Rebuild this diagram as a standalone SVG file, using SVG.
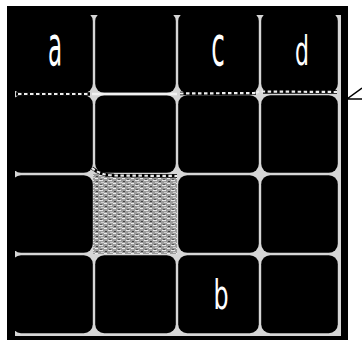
<svg xmlns="http://www.w3.org/2000/svg" width="362" height="343" viewBox="0 0 362 343">
<style>
.cell{fill:#000}
.lbl{fill:#fff;font-family:"DejaVu Sans",sans-serif;text-anchor:middle}
.under{fill:none;stroke:#000;stroke-width:3.5}
.dash{fill:none;stroke:#eeeeee;stroke-width:2.2;stroke-dasharray:3.5 2.5}
.solid{fill:none;stroke:#f2f2f2;stroke-width:2.5}
</style>
<defs>
<pattern id="tex" width="9" height="5" patternUnits="userSpaceOnUse">
<rect width="9" height="5" fill="#9c9c9c"/>
<rect x="0" y="0" width="4" height="1" fill="#e8e8e8"/>
<rect x="6" y="1" width="2" height="1" fill="#444"/>
<rect x="2" y="2" width="3" height="1" fill="#d0d0d0"/>
<rect x="5" y="3" width="3" height="1" fill="#eeeeee"/>
<rect x="1" y="4" width="2" height="1" fill="#555"/>
</pattern>
</defs>
<rect width="362" height="343" fill="#fff"/>
<rect x="7" y="6" width="341" height="334" fill="#000"/>
<rect x="15" y="15" width="326" height="321" fill="#d6d6d6"/>
<g id="cells">
<g id="r1c1"><rect class="cell" x="12" y="12" width="80.8" height="80.8" rx="9"/></g>
<g id="r1c2"><rect class="cell" x="95.2" y="12" width="80.6" height="80.8" rx="9"/></g>
<g id="r1c3"><rect class="cell" x="178.2" y="12" width="80.6" height="80.8" rx="9"/></g>
<g id="r1c4"><rect class="cell" x="261.2" y="12" width="76.6" height="80.8" rx="9"/></g>
<g id="r2c1"><rect class="cell" x="12" y="95.2" width="80.8" height="77.6" rx="9"/></g>
<g id="r2c2"><rect class="cell" x="95.2" y="95.2" width="80.6" height="77.6" rx="9"/></g>
<g id="r2c3"><rect class="cell" x="178.2" y="95.2" width="80.6" height="77.6" rx="9"/></g>
<g id="r2c4"><rect class="cell" x="261.2" y="95.2" width="76.6" height="77.6" rx="9"/></g>
<g id="r3c1"><rect class="cell" x="12" y="175.2" width="80.8" height="77.6" rx="9"/></g>
<g id="r3c2"><rect x="93" y="174" width="84" height="80" fill="url(#tex)"/></g>
<g id="r3c3"><rect class="cell" x="178.2" y="175.2" width="80.6" height="77.6" rx="9"/></g>
<g id="r3c4"><rect class="cell" x="261.2" y="175.2" width="76.6" height="77.6" rx="9"/></g>
<g id="r4c1"><rect class="cell" x="12" y="255.2" width="80.8" height="78" rx="9"/></g>
<g id="r4c2"><rect class="cell" x="95.2" y="255.2" width="80.6" height="78" rx="9"/></g>
<g id="r4c3"><rect class="cell" x="178.2" y="255.2" width="80.6" height="78" rx="9"/></g>
<g id="r4c4"><rect class="cell" x="261.2" y="255.2" width="76.6" height="78" rx="9"/></g>
</g>
<rect x="7" y="6" width="8" height="334" fill="#000"/>
<rect x="7" y="6" width="341" height="8" fill="#000"/>
<g id="connectors">
<line class="under" x1="16" y1="94" x2="90" y2="94"/>
<line class="dash" x1="18" y1="94" x2="90" y2="94"/>
<line class="solid" x1="92" y1="94" x2="177" y2="94"/>
<line class="under" x1="180" y1="93.5" x2="256" y2="93"/>
<line class="dash" x1="180" y1="93.5" x2="256" y2="93"/>
<path class="under" d="M263 92 L337 92"/>
<path class="dash" d="M256 93 Q259.5 90.5 263 91.5 L337 92"/>
<path d="M362 88 L347 99 L362 99" fill="#fff" stroke="#000" stroke-width="1.5"/>
<path class="under" d="M92 168 Q100 175 114 175.5 L177 176"/>
<path class="dash" d="M92 168 Q100 175 114 175.5 L177 176"/>
</g>
<g id="labels">
<text class="lbl" font-size="55" transform="translate(55,65) scale(0.42,1)">a</text>
<text class="lbl" font-size="55" transform="translate(218,65) scale(0.45,1)">c</text>
<text class="lbl" font-size="40" transform="translate(302,65) scale(0.55,1)">d</text>
<text class="lbl" font-size="41" transform="translate(221,309) scale(0.58,1)">b</text>
</g>
</svg>
